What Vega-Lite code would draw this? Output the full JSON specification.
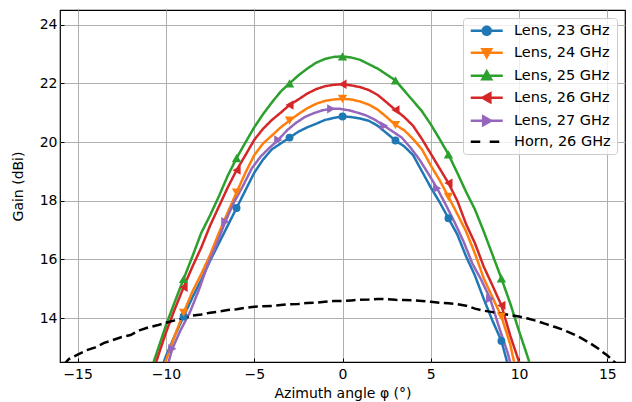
{
  "$schema": "https://vega.github.io/schema/vega-lite/v6.json",
  "width": 565,
  "height": 352,
  "autosize": {"type": "none"},
  "padding": {"left": 60, "top": 10, "right": 7, "bottom": 40},
  "config": {
    "font": "DejaVu Sans",
    "view": {"stroke": "black", "strokeWidth": 1.2},
    "axis": {
      "grid": true, "gridColor": "#b0b0b0", "gridWidth": 1, "gridOpacity": 1,
      "domain": false, "tickColor": "black", "tickSize": -4, "tickWidth": 1,
      "labelFontSize": 14, "labelColor": "black", "titleFontSize": 14, "titleFontWeight": "normal", "titleColor": "black"
    }
  },
  "datasets": {
    "curves": [
      {"s":"Lens, 23 GHz","x":-10.3,"y":12.2},{"s":"Lens, 23 GHz","x":-10.0,"y":12.7},{"s":"Lens, 23 GHz","x":-9.5,"y":13.4},{"s":"Lens, 23 GHz","x":-9.0,"y":14.05,"m":true},{"s":"Lens, 23 GHz","x":-8.5,"y":14.7},{"s":"Lens, 23 GHz","x":-8.0,"y":15.3},{"s":"Lens, 23 GHz","x":-7.5,"y":15.95},{"s":"Lens, 23 GHz","x":-7.0,"y":16.55},{"s":"Lens, 23 GHz","x":-6.5,"y":17.15},{"s":"Lens, 23 GHz","x":-6.0,"y":17.75,"m":true},{"s":"Lens, 23 GHz","x":-5.5,"y":18.35},{"s":"Lens, 23 GHz","x":-5.0,"y":18.95},{"s":"Lens, 23 GHz","x":-4.5,"y":19.4},{"s":"Lens, 23 GHz","x":-4.0,"y":19.75},{"s":"Lens, 23 GHz","x":-3.5,"y":19.95},{"s":"Lens, 23 GHz","x":-3.0,"y":20.15,"m":true},{"s":"Lens, 23 GHz","x":-2.5,"y":20.35},{"s":"Lens, 23 GHz","x":-2.0,"y":20.5},{"s":"Lens, 23 GHz","x":-1.5,"y":20.62},{"s":"Lens, 23 GHz","x":-1.0,"y":20.75},{"s":"Lens, 23 GHz","x":-0.5,"y":20.82},{"s":"Lens, 23 GHz","x":0,"y":20.87,"m":true},{"s":"Lens, 23 GHz","x":0.5,"y":20.85},{"s":"Lens, 23 GHz","x":1.0,"y":20.8},{"s":"Lens, 23 GHz","x":1.5,"y":20.72},{"s":"Lens, 23 GHz","x":2.0,"y":20.55},{"s":"Lens, 23 GHz","x":2.5,"y":20.3},{"s":"Lens, 23 GHz","x":3.0,"y":20.05,"m":true},{"s":"Lens, 23 GHz","x":3.5,"y":19.85},{"s":"Lens, 23 GHz","x":4.0,"y":19.55},{"s":"Lens, 23 GHz","x":4.5,"y":19.0},{"s":"Lens, 23 GHz","x":5.0,"y":18.45},{"s":"Lens, 23 GHz","x":5.5,"y":17.95},{"s":"Lens, 23 GHz","x":6.0,"y":17.4,"m":true},{"s":"Lens, 23 GHz","x":6.5,"y":16.85},{"s":"Lens, 23 GHz","x":7.0,"y":16.1},{"s":"Lens, 23 GHz","x":7.5,"y":15.45},{"s":"Lens, 23 GHz","x":8.0,"y":14.65},{"s":"Lens, 23 GHz","x":8.5,"y":13.9},{"s":"Lens, 23 GHz","x":9.0,"y":13.22,"m":true},{"s":"Lens, 23 GHz","x":9.3,"y":12.55},{"s":"Lens, 23 GHz","x":9.5,"y":12.2},

      {"s":"Lens, 24 GHz","x":-10.2,"y":12.2},{"s":"Lens, 24 GHz","x":-10.0,"y":12.55},{"s":"Lens, 24 GHz","x":-9.5,"y":13.4},{"s":"Lens, 24 GHz","x":-9.0,"y":14.18,"m":true},{"s":"Lens, 24 GHz","x":-8.5,"y":14.9},{"s":"Lens, 24 GHz","x":-8.0,"y":15.5},{"s":"Lens, 24 GHz","x":-7.5,"y":16.15},{"s":"Lens, 24 GHz","x":-7.0,"y":16.9},{"s":"Lens, 24 GHz","x":-6.5,"y":17.6},{"s":"Lens, 24 GHz","x":-6.0,"y":18.28,"m":true},{"s":"Lens, 24 GHz","x":-5.5,"y":18.95},{"s":"Lens, 24 GHz","x":-5.0,"y":19.55},{"s":"Lens, 24 GHz","x":-4.5,"y":19.95},{"s":"Lens, 24 GHz","x":-4.0,"y":20.22},{"s":"Lens, 24 GHz","x":-3.5,"y":20.5},{"s":"Lens, 24 GHz","x":-3.0,"y":20.73,"m":true},{"s":"Lens, 24 GHz","x":-2.5,"y":20.95},{"s":"Lens, 24 GHz","x":-2.0,"y":21.15},{"s":"Lens, 24 GHz","x":-1.5,"y":21.3},{"s":"Lens, 24 GHz","x":-1.0,"y":21.4},{"s":"Lens, 24 GHz","x":-0.5,"y":21.45},{"s":"Lens, 24 GHz","x":0,"y":21.47,"m":true},{"s":"Lens, 24 GHz","x":0.5,"y":21.45},{"s":"Lens, 24 GHz","x":1.0,"y":21.38},{"s":"Lens, 24 GHz","x":1.5,"y":21.27},{"s":"Lens, 24 GHz","x":2.0,"y":21.1},{"s":"Lens, 24 GHz","x":2.5,"y":20.85},{"s":"Lens, 24 GHz","x":3.0,"y":20.58,"m":true},{"s":"Lens, 24 GHz","x":3.5,"y":20.4},{"s":"Lens, 24 GHz","x":4.0,"y":20.1},{"s":"Lens, 24 GHz","x":4.5,"y":19.75},{"s":"Lens, 24 GHz","x":5.0,"y":19.2},{"s":"Lens, 24 GHz","x":5.5,"y":18.7},{"s":"Lens, 24 GHz","x":6.0,"y":18.13,"m":true},{"s":"Lens, 24 GHz","x":6.5,"y":17.55},{"s":"Lens, 24 GHz","x":7.0,"y":16.95},{"s":"Lens, 24 GHz","x":7.5,"y":16.2},{"s":"Lens, 24 GHz","x":8.0,"y":15.35},{"s":"Lens, 24 GHz","x":8.5,"y":14.7},{"s":"Lens, 24 GHz","x":9.0,"y":14.05,"m":true},{"s":"Lens, 24 GHz","x":9.5,"y":13.1},{"s":"Lens, 24 GHz","x":9.7,"y":12.55},{"s":"Lens, 24 GHz","x":9.9,"y":12.2},

      {"s":"Lens, 25 GHz","x":-10.9,"y":12.1},{"s":"Lens, 25 GHz","x":-10.7,"y":12.5},{"s":"Lens, 25 GHz","x":-10.5,"y":12.85},{"s":"Lens, 25 GHz","x":-10.0,"y":13.75},{"s":"Lens, 25 GHz","x":-9.5,"y":14.55},{"s":"Lens, 25 GHz","x":-9.0,"y":15.33,"m":true},{"s":"Lens, 25 GHz","x":-8.5,"y":16.1},{"s":"Lens, 25 GHz","x":-8.0,"y":16.9},{"s":"Lens, 25 GHz","x":-7.5,"y":17.5},{"s":"Lens, 25 GHz","x":-7.0,"y":18.15},{"s":"Lens, 25 GHz","x":-6.5,"y":18.85},{"s":"Lens, 25 GHz","x":-6.0,"y":19.45,"m":true},{"s":"Lens, 25 GHz","x":-5.5,"y":19.98},{"s":"Lens, 25 GHz","x":-5.0,"y":20.5},{"s":"Lens, 25 GHz","x":-4.5,"y":20.95},{"s":"Lens, 25 GHz","x":-4.0,"y":21.35},{"s":"Lens, 25 GHz","x":-3.5,"y":21.72},{"s":"Lens, 25 GHz","x":-3.0,"y":22.0,"m":true},{"s":"Lens, 25 GHz","x":-2.5,"y":22.27},{"s":"Lens, 25 GHz","x":-2.0,"y":22.5},{"s":"Lens, 25 GHz","x":-1.5,"y":22.7},{"s":"Lens, 25 GHz","x":-1.0,"y":22.83},{"s":"Lens, 25 GHz","x":-0.5,"y":22.9},{"s":"Lens, 25 GHz","x":0,"y":22.92,"m":true},{"s":"Lens, 25 GHz","x":0.5,"y":22.88},{"s":"Lens, 25 GHz","x":1.0,"y":22.8},{"s":"Lens, 25 GHz","x":1.5,"y":22.65},{"s":"Lens, 25 GHz","x":2.0,"y":22.5},{"s":"Lens, 25 GHz","x":2.5,"y":22.3},{"s":"Lens, 25 GHz","x":3.0,"y":22.1,"m":true},{"s":"Lens, 25 GHz","x":3.5,"y":21.75},{"s":"Lens, 25 GHz","x":4.0,"y":21.4},{"s":"Lens, 25 GHz","x":4.5,"y":21.05},{"s":"Lens, 25 GHz","x":5.0,"y":20.6},{"s":"Lens, 25 GHz","x":5.5,"y":20.1},{"s":"Lens, 25 GHz","x":6.0,"y":19.58,"m":true},{"s":"Lens, 25 GHz","x":6.5,"y":18.95},{"s":"Lens, 25 GHz","x":7.0,"y":18.3},{"s":"Lens, 25 GHz","x":7.5,"y":17.7},{"s":"Lens, 25 GHz","x":8.0,"y":16.95},{"s":"Lens, 25 GHz","x":8.5,"y":16.15},{"s":"Lens, 25 GHz","x":9.0,"y":15.35,"m":true},{"s":"Lens, 25 GHz","x":9.5,"y":14.5},{"s":"Lens, 25 GHz","x":10.0,"y":13.55},{"s":"Lens, 25 GHz","x":10.5,"y":12.65},{"s":"Lens, 25 GHz","x":10.7,"y":12.25},

      {"s":"Lens, 26 GHz","x":-10.7,"y":12.25},{"s":"Lens, 26 GHz","x":-10.5,"y":12.6},{"s":"Lens, 26 GHz","x":-10.0,"y":13.5},{"s":"Lens, 26 GHz","x":-9.5,"y":14.3},{"s":"Lens, 26 GHz","x":-9.0,"y":15.05,"m":true},{"s":"Lens, 26 GHz","x":-8.5,"y":15.75},{"s":"Lens, 26 GHz","x":-8.0,"y":16.4},{"s":"Lens, 26 GHz","x":-7.5,"y":17.15},{"s":"Lens, 26 GHz","x":-7.0,"y":17.8},{"s":"Lens, 26 GHz","x":-6.5,"y":18.45},{"s":"Lens, 26 GHz","x":-6.0,"y":19.04,"m":true},{"s":"Lens, 26 GHz","x":-5.5,"y":19.55},{"s":"Lens, 26 GHz","x":-5.0,"y":20.07},{"s":"Lens, 26 GHz","x":-4.5,"y":20.45},{"s":"Lens, 26 GHz","x":-4.0,"y":20.75},{"s":"Lens, 26 GHz","x":-3.5,"y":21.0},{"s":"Lens, 26 GHz","x":-3.0,"y":21.26,"m":true},{"s":"Lens, 26 GHz","x":-2.5,"y":21.45},{"s":"Lens, 26 GHz","x":-2.0,"y":21.65},{"s":"Lens, 26 GHz","x":-1.5,"y":21.8},{"s":"Lens, 26 GHz","x":-1.0,"y":21.9},{"s":"Lens, 26 GHz","x":-0.5,"y":21.95},{"s":"Lens, 26 GHz","x":0,"y":21.97,"m":true},{"s":"Lens, 26 GHz","x":0.5,"y":21.93},{"s":"Lens, 26 GHz","x":1.0,"y":21.87},{"s":"Lens, 26 GHz","x":1.5,"y":21.77},{"s":"Lens, 26 GHz","x":2.0,"y":21.6},{"s":"Lens, 26 GHz","x":2.5,"y":21.35},{"s":"Lens, 26 GHz","x":3.0,"y":21.09,"m":true},{"s":"Lens, 26 GHz","x":3.5,"y":20.85},{"s":"Lens, 26 GHz","x":4.0,"y":20.55},{"s":"Lens, 26 GHz","x":4.5,"y":20.1},{"s":"Lens, 26 GHz","x":5.0,"y":19.6},{"s":"Lens, 26 GHz","x":5.5,"y":19.1},{"s":"Lens, 26 GHz","x":6.0,"y":18.6,"m":true},{"s":"Lens, 26 GHz","x":6.5,"y":18.0},{"s":"Lens, 26 GHz","x":7.0,"y":17.2},{"s":"Lens, 26 GHz","x":7.5,"y":16.55},{"s":"Lens, 26 GHz","x":8.0,"y":15.75},{"s":"Lens, 26 GHz","x":8.5,"y":15.1},{"s":"Lens, 26 GHz","x":9.0,"y":14.43,"m":true},{"s":"Lens, 26 GHz","x":9.5,"y":13.4},{"s":"Lens, 26 GHz","x":10.0,"y":12.5},{"s":"Lens, 26 GHz","x":10.2,"y":12.15},

      {"s":"Lens, 27 GHz","x":-10.0,"y":12.2},{"s":"Lens, 27 GHz","x":-9.85,"y":12.5},{"s":"Lens, 27 GHz","x":-9.64,"y":12.95,"m":true},{"s":"Lens, 27 GHz","x":-9.2,"y":13.55},{"s":"Lens, 27 GHz","x":-8.64,"y":14.2},{"s":"Lens, 27 GHz","x":-8.14,"y":14.95},{"s":"Lens, 27 GHz","x":-7.64,"y":15.8},{"s":"Lens, 27 GHz","x":-7.14,"y":16.5},{"s":"Lens, 27 GHz","x":-6.64,"y":17.28,"m":true},{"s":"Lens, 27 GHz","x":-6.14,"y":17.95},{"s":"Lens, 27 GHz","x":-5.64,"y":18.5},{"s":"Lens, 27 GHz","x":-5.14,"y":19.1},{"s":"Lens, 27 GHz","x":-4.64,"y":19.5},{"s":"Lens, 27 GHz","x":-4.14,"y":19.8},{"s":"Lens, 27 GHz","x":-3.64,"y":20.07,"m":true},{"s":"Lens, 27 GHz","x":-3.14,"y":20.4},{"s":"Lens, 27 GHz","x":-2.64,"y":20.65},{"s":"Lens, 27 GHz","x":-2.14,"y":20.85},{"s":"Lens, 27 GHz","x":-1.64,"y":20.98},{"s":"Lens, 27 GHz","x":-1.14,"y":21.08},{"s":"Lens, 27 GHz","x":-0.64,"y":21.13,"m":true},{"s":"Lens, 27 GHz","x":-0.14,"y":21.13},{"s":"Lens, 27 GHz","x":0.36,"y":21.08},{"s":"Lens, 27 GHz","x":0.86,"y":21.0},{"s":"Lens, 27 GHz","x":1.36,"y":20.9},{"s":"Lens, 27 GHz","x":1.86,"y":20.75},{"s":"Lens, 27 GHz","x":2.36,"y":20.55,"m":true},{"s":"Lens, 27 GHz","x":2.86,"y":20.35},{"s":"Lens, 27 GHz","x":3.36,"y":20.15},{"s":"Lens, 27 GHz","x":3.86,"y":19.8},{"s":"Lens, 27 GHz","x":4.36,"y":19.4},{"s":"Lens, 27 GHz","x":4.86,"y":18.92},{"s":"Lens, 27 GHz","x":5.36,"y":18.42,"m":true},{"s":"Lens, 27 GHz","x":5.86,"y":17.85},{"s":"Lens, 27 GHz","x":6.36,"y":17.25},{"s":"Lens, 27 GHz","x":6.86,"y":16.6},{"s":"Lens, 27 GHz","x":7.36,"y":15.85},{"s":"Lens, 27 GHz","x":7.86,"y":15.3},{"s":"Lens, 27 GHz","x":8.36,"y":14.66,"m":true},{"s":"Lens, 27 GHz","x":8.86,"y":13.7},{"s":"Lens, 27 GHz","x":9.36,"y":12.8},{"s":"Lens, 27 GHz","x":9.6,"y":12.25},

      {"s":"Horn, 26 GHz","x":-15.8,"y":12.4},{"s":"Horn, 26 GHz","x":-15.5,"y":12.6},{"s":"Horn, 26 GHz","x":-15.0,"y":12.75},{"s":"Horn, 26 GHz","x":-14.5,"y":12.9},{"s":"Horn, 26 GHz","x":-14.0,"y":13.0},{"s":"Horn, 26 GHz","x":-13.5,"y":13.15},{"s":"Horn, 26 GHz","x":-13.0,"y":13.25},{"s":"Horn, 26 GHz","x":-12.5,"y":13.35},{"s":"Horn, 26 GHz","x":-12.0,"y":13.42},{"s":"Horn, 26 GHz","x":-11.5,"y":13.58},{"s":"Horn, 26 GHz","x":-11.0,"y":13.68},{"s":"Horn, 26 GHz","x":-10.5,"y":13.75},{"s":"Horn, 26 GHz","x":-10.0,"y":13.84},{"s":"Horn, 26 GHz","x":-9.5,"y":13.92},{"s":"Horn, 26 GHz","x":-9.0,"y":14.0},{"s":"Horn, 26 GHz","x":-8.5,"y":14.08},{"s":"Horn, 26 GHz","x":-8.0,"y":14.12},{"s":"Horn, 26 GHz","x":-7.5,"y":14.18},{"s":"Horn, 26 GHz","x":-7.0,"y":14.22},{"s":"Horn, 26 GHz","x":-6.5,"y":14.27},{"s":"Horn, 26 GHz","x":-6.0,"y":14.3},{"s":"Horn, 26 GHz","x":-5.5,"y":14.35},{"s":"Horn, 26 GHz","x":-5.0,"y":14.38},{"s":"Horn, 26 GHz","x":-4.5,"y":14.4},{"s":"Horn, 26 GHz","x":-4.0,"y":14.41},{"s":"Horn, 26 GHz","x":-3.5,"y":14.44},{"s":"Horn, 26 GHz","x":-3.0,"y":14.47},{"s":"Horn, 26 GHz","x":-2.5,"y":14.48},{"s":"Horn, 26 GHz","x":-2.0,"y":14.51},{"s":"Horn, 26 GHz","x":-1.5,"y":14.52},{"s":"Horn, 26 GHz","x":-1.0,"y":14.55},{"s":"Horn, 26 GHz","x":-0.5,"y":14.58},{"s":"Horn, 26 GHz","x":0,"y":14.58},{"s":"Horn, 26 GHz","x":0.5,"y":14.6},{"s":"Horn, 26 GHz","x":1.0,"y":14.62},{"s":"Horn, 26 GHz","x":1.5,"y":14.63},{"s":"Horn, 26 GHz","x":2.0,"y":14.65},{"s":"Horn, 26 GHz","x":2.5,"y":14.64},{"s":"Horn, 26 GHz","x":3.0,"y":14.62},{"s":"Horn, 26 GHz","x":3.5,"y":14.61},{"s":"Horn, 26 GHz","x":4.0,"y":14.6},{"s":"Horn, 26 GHz","x":4.5,"y":14.58},{"s":"Horn, 26 GHz","x":5.0,"y":14.55},{"s":"Horn, 26 GHz","x":5.5,"y":14.52},{"s":"Horn, 26 GHz","x":6.0,"y":14.5},{"s":"Horn, 26 GHz","x":6.5,"y":14.47},{"s":"Horn, 26 GHz","x":7.0,"y":14.42},{"s":"Horn, 26 GHz","x":7.5,"y":14.32},{"s":"Horn, 26 GHz","x":8.0,"y":14.25},{"s":"Horn, 26 GHz","x":8.5,"y":14.2},{"s":"Horn, 26 GHz","x":9.0,"y":14.15},{"s":"Horn, 26 GHz","x":9.5,"y":14.1},{"s":"Horn, 26 GHz","x":10.0,"y":14.05},{"s":"Horn, 26 GHz","x":10.5,"y":13.98},{"s":"Horn, 26 GHz","x":11.0,"y":13.9},{"s":"Horn, 26 GHz","x":11.5,"y":13.8},{"s":"Horn, 26 GHz","x":12.0,"y":13.7},{"s":"Horn, 26 GHz","x":12.5,"y":13.6},{"s":"Horn, 26 GHz","x":13.0,"y":13.47},{"s":"Horn, 26 GHz","x":13.5,"y":13.32},{"s":"Horn, 26 GHz","x":14.0,"y":13.15},{"s":"Horn, 26 GHz","x":14.5,"y":12.95},{"s":"Horn, 26 GHz","x":15.0,"y":12.72},{"s":"Horn, 26 GHz","x":15.3,"y":12.55},{"s":"Horn, 26 GHz","x":15.6,"y":12.4}
    ]
  },
  "data": {"name": "curves"},
  "encoding": {
    "x": {"field": "x", "type": "quantitative", "title": "Azimuth angle φ (°)",
      "scale": {"domain": [-16, 16], "nice": false, "zero": false},
      "axis": {"values": [-15, -10, -5, 0, 5, 10, 15], "labelPadding": 9.5, "titlePadding": 5}},
    "y": {"field": "y", "type": "quantitative", "title": "Gain (dBi)",
      "scale": {"domain": [12.5, 24.5], "nice": false, "zero": false},
      "axis": {"values": [14, 16, 18, 20, 22, 24], "labelPadding": 7, "titlePadding": 14}},
    "color": {"field": "s", "type": "nominal", "title": null,
      "scale": {"domain": ["Lens, 23 GHz", "Lens, 24 GHz", "Lens, 25 GHz", "Lens, 26 GHz", "Lens, 27 GHz", "Horn, 26 GHz"],
                "range": ["#1f77b4", "#ff7f0e", "#2ca02c", "#d62728", "#9467bd", "#000000"]},
      "legend": {
        "orient": "top-right", "offset": 8, "padding": 5.5,
        "fillColor": "rgba(255,255,255,0.8)", "strokeColor": "#cccccc", "cornerRadius": 3,
        "labelFontSize": 14.5, "labelColor": "black", "labelLimit": 200,
        "symbolSize": 64, "symbolOffset": 11, "labelOffset": 20, "rowPadding": 3,
        "encode": {
          "symbols": {"update": {
            "shape": {"signal": "datum.value === 'Lens, 23 GHz' ? 'M-4,0H4M1,0A1,1,0,1,1,-1,0A1,1,0,1,1,1,0Z' : datum.value === 'Lens, 24 GHz' ? 'M-4,0H4M-1.1,-0.9L1.1,-0.9L0,1.1Z' : datum.value === 'Lens, 25 GHz' ? 'M-4,0H4M-1.1,0.9L1.1,0.9L0,-1.1Z' : datum.value === 'Lens, 26 GHz' ? 'M-4,0H4M0.9,-1.1L0.9,1.1L-1.1,0Z' : datum.value === 'Lens, 27 GHz' ? 'M-4,0H4M-0.9,-1.1L-0.9,1.1L1.1,0Z' : 'M-4,0H-0.75M0.75,0H4'"},
            "fill": {"signal": "scale('color', datum.value)"},
            "stroke": {"signal": "scale('color', datum.value)"},
            "strokeWidth": {"value": 2.5},
            "opacity": {"value": 1},
            "fillOpacity": {"value": 1},
            "strokeOpacity": {"value": 1}
          }}
        }
      }
    }
  },
  "layer": [
    {
      "mark": {"type": "line", "strokeWidth": 2.5, "clip": true},
      "encoding": {
        "strokeDash": {"field": "s", "type": "nominal", "legend": null,
          "scale": {"domain": ["Lens, 23 GHz", "Lens, 24 GHz", "Lens, 25 GHz", "Lens, 26 GHz", "Lens, 27 GHz", "Horn, 26 GHz"],
                    "range": [[1, 0], [1, 0], [1, 0], [1, 0], [1, 0], [9.5, 4.5]]}}
      }
    },
    {
      "transform": [{"filter": "datum.m === true && datum.s === 'Lens, 23 GHz'"}],
      "mark": {"type": "point", "shape": "circle", "filled": true, "opacity": 1, "size": 62, "clip": true}
    },
    {
      "transform": [{"filter": "datum.m === true && datum.s === 'Lens, 24 GHz'"}],
      "mark": {"type": "point", "shape": "triangle-down", "filled": true, "opacity": 1, "size": 88, "clip": true}
    },
    {
      "transform": [{"filter": "datum.m === true && datum.s === 'Lens, 25 GHz'"}],
      "mark": {"type": "point", "shape": "triangle-up", "filled": true, "opacity": 1, "size": 88, "clip": true}
    },
    {
      "transform": [{"filter": "datum.m === true && datum.s === 'Lens, 26 GHz'"}],
      "mark": {"type": "point", "shape": "triangle-left", "filled": true, "opacity": 1, "size": 88, "clip": true}
    },
    {
      "transform": [{"filter": "datum.m === true && datum.s === 'Lens, 27 GHz'"}],
      "mark": {"type": "point", "shape": "triangle-right", "filled": true, "opacity": 1, "size": 88, "clip": true}
    }
  ]
}
